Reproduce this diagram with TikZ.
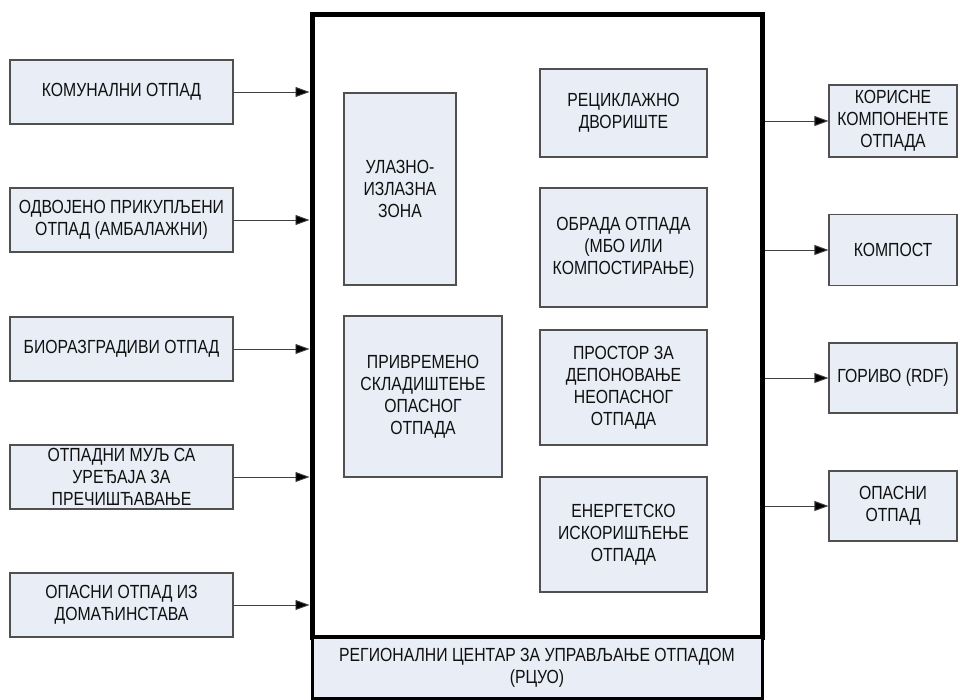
\documentclass[tikz,border=0pt]{standalone}
\usepackage{fontspec}
\setmainfont{Liberation Sans}[FakeStretch=0.83]
\usetikzlibrary{arrows.meta}
\definecolor{boxfill}{HTML}{E8EDF6}
\definecolor{boxline}{HTML}{505050}
\definecolor{txt}{HTML}{101010}
\begin{document}
\begin{tikzpicture}[x=1pt,y=-1pt,
  box/.style={draw=boxline,fill=boxfill,line width=1.1pt,align=center,inner sep=2pt,
    text=txt,font=\fontsize{19}{22}\selectfont},
  arr/.style={draw=black!75,line width=0.9pt,-{Triangle[length=14pt,width=10pt,fill=black]}}]
\useasboundingbox (0,0) rectangle (963,700);
% main frame
\node[draw=black,line width=5pt,minimum width=450pt,minimum height=622pt,inner sep=0pt,anchor=center] (main) at (537,326) {};
\node[draw=black,fill=boxfill,line width=3pt,minimum width=450pt,minimum height=61pt,inner sep=0pt,align=center,text=txt,font=\fontsize{19}{22}\selectfont] (rcuo) at (537,667.5) {РЕГИОНАЛНИ ЦЕНТАР ЗА УПРАВЉАЊЕ ОТПАДОМ\\(РЦУО)};
% left inputs
\node[box,minimum width=223pt,minimum height=64pt] (l1) at (121.5,92) {КОМУНАЛНИ ОТПАД};
\node[box,minimum width=223pt,minimum height=64pt] (l2) at (121.5,220) {ОДВОЈЕНО ПРИКУПЉЕНИ\\ОТПАД (АМБАЛАЖНИ)};
\node[box,minimum width=223pt,minimum height=64pt] (l3) at (121.5,349) {БИОРАЗГРАДИВИ ОТПАД};
\node[box,minimum width=223pt,minimum height=64pt] (l4) at (121.5,477) {ОТПАДНИ МУЉ СА\\УРЕЂАЈА ЗА\\ПРЕЧИШЋАВАЊЕ};
\node[box,minimum width=223pt,minimum height=64pt] (l5) at (121.5,605) {ОПАСНИ ОТПАД ИЗ\\ДОМАЋИНСТАВА};
% inner boxes
\node[box,minimum width=112pt,minimum height=192pt] (ul) at (400,189) {УЛАЗНО-\\ИЗЛАЗНА\\ЗОНА};
\node[box,minimum width=158pt,minimum height=161pt] (pr) at (423,396.5) {ПРИВРЕМЕНО\\СКЛАДИШТЕЊЕ\\ОПАСНОГ\\ОТПАДА};
\node[box,minimum width=167pt,minimum height=88pt] (rc) at (623.5,113) {РЕЦИКЛАЖНО\\ДВОРИШТЕ};
\node[box,minimum width=167pt,minimum height=119pt] (ob) at (623.5,247.5) {ОБРАДА ОТПАДА\\(МБО ИЛИ\\КОМПОСТИРАЊЕ)};
\node[box,minimum width=167pt,minimum height=115pt] (ps) at (623.5,387.5) {ПРОСТОР ЗА\\ДЕПОНОВАЊЕ\\НЕОПАСНОГ\\ОТПАДА};
\node[box,minimum width=167pt,minimum height=115pt] (en) at (623.5,534.5) {ЕНЕРГЕТСКО\\ИСКОРИШЋЕЊЕ\\ОТПАДА};
% right outputs
\node[box,minimum width=128pt,minimum height=72pt] (r1) at (893,121) {КОРИСНЕ\\КОМПОНЕНТЕ\\ОТПАДА};
\node[box,minimum width=128pt,minimum height=71pt] (r2) at (893,250) {КОМПОСТ};
\node[box,minimum width=128pt,minimum height=70pt] (r3) at (893,378) {ГОРИВО (RDF)};
\node[box,minimum width=128pt,minimum height=70pt] (r4) at (893,506) {ОПАСНИ\\ОТПАД};
% arrows
\foreach \n in {l1,l2,l3,l4,l5}
  \draw[arr] (\n.east) -- (\n.east -| main.west);
\foreach \n in {r1,r2,r3,r4}
  \draw[arr] (\n.west -| main.east) -- (\n.west);
\end{tikzpicture}
\end{document}
